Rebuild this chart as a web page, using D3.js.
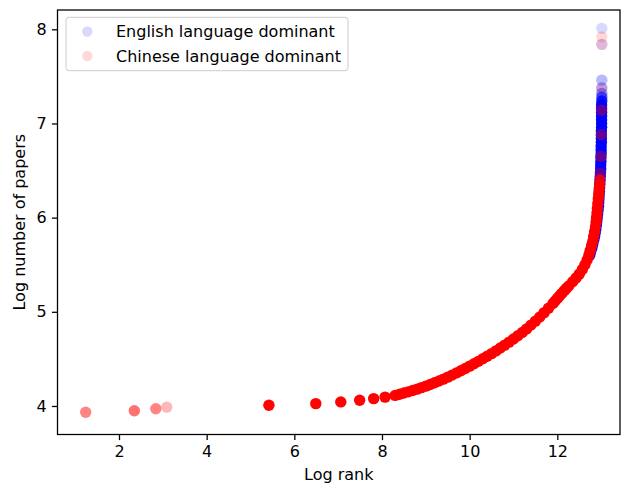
<!DOCTYPE html>
<html>
<head>
<meta charset="utf-8">
<script src="https://cdn.jsdelivr.net/npm/d3@7"></script>
<style>
  html, body { margin: 0; padding: 0; background: #fff; }
  svg text { font-family: "DejaVu Sans", sans-serif; }
</style>
</head>
<body>
<svg id="chart" width="621" height="483"></svg>
<script>
// ---------------- data ----------------
const seriesNames = ["English language dominant", "Chinese language dominant"];
const xTicks = [2, 4, 6, 8, 10, 12];
const yTicks = [4, 5, 6, 7, 8];

// English-dominant points: log rank, log papers, number of stacked markers
const enX = [12.74,12.76,12.79,12.81,12.83,12.85,12.865,12.88,12.89,12.90,12.91,12.92,12.93,12.94,12.945,12.95,12.955,12.96,12.965,12.97,12.975,12.98,12.985,12.99,12.99,12.995,12.995,13.0,13.0,13.0,13.005,13.005,13.005,13.005,13.01,13.01,13.01,13.01,13.01,13.01,13.01,13.015,13.015,13.015,13.015,13.015,13.015,13.015];
const enY = [5.60,5.64,5.68,5.72,5.76,5.80,5.84,5.88,5.92,5.96,6.00,6.04,6.08,6.12,6.16,6.20,6.24,6.28,6.32,6.36,6.40,6.44,6.48,6.52,6.56,6.60,6.64,6.68,6.72,6.76,6.80,6.84,6.88,6.92,6.96,7.00,7.04,7.08,7.12,7.16,7.20,7.24,7.28,7.32,7.38,7.46,7.84,8.01];
const enN = [20,20,20,20,20,20,20,20,20,20,20,20,20,20,20,20,20,20,20,20,20,20,20,20,20,20,20,20,20,20,20,20,20,20,20,20,20,20,20,20,16,10,6,3,2,2,1,1];

// Chinese-dominant points
const zhX = [1.24,2.35,2.84,3.09,5.42,6.49,7.06,7.49,7.81,8.07,
  8.3,8.4,8.5,8.6,8.7,8.8,8.9,9.0,9.1,9.2,9.3,9.4,9.5,9.6,9.7,9.8,9.9,10.0,10.1,10.2,10.3,10.4,10.5,10.6,10.7,10.8,10.9,11.0,11.1,11.2,11.3,11.4,11.5,11.6,11.7,11.8,11.9,11.95,12.0,
  12.05,12.1,12.16,12.21,12.26,12.35,12.43,12.50,12.57,12.63,12.68,12.72,12.75,12.78,12.81,12.83,12.85,12.87,12.885,12.895,12.905,12.915,12.925,12.935,12.945,12.955,12.965,12.972,
  12.98,12.995,13.005,13.01,13.015,13.015,13.015];
const zhY = [3.933,3.950,3.970,3.988,4.007,4.025,4.043,4.060,4.078,4.094,
  4.112,4.124,4.137,4.150,4.164,4.179,4.195,4.211,4.228,4.246,4.265,4.285,4.306,4.328,4.351,4.374,4.398,4.423,4.448,4.474,4.501,4.528,4.556,4.585,4.615,4.646,4.678,4.711,4.745,4.781,4.819,4.859,4.901,4.945,4.991,5.039,5.089,5.115,5.141,
  5.168,5.195,5.225,5.25,5.275,5.32,5.36,5.40,5.45,5.50,5.55,5.60,5.65,5.70,5.75,5.80,5.85,5.90,5.95,6.00,6.05,6.10,6.15,6.20,6.25,6.30,6.35,6.40,
  6.47,6.65,6.88,7.14,7.37,7.84,7.92];
const zhN = [4,5,4,2,30,30,30,30,30,30,
  30,30,30,30,30,30,30,30,30,30,30,30,30,30,30,30,30,30,30,30,30,30,30,30,30,30,30,30,30,30,30,30,30,30,30,30,30,30,30,
  30,30,30,30,30,30,30,30,30,30,30,30,30,30,30,30,30,30,30,30,30,30,30,30,30,30,20,10,
  3,3,3,3,1,1,1];

// ---------------- layout ----------------
const ALPHA = 0.15;
const plot = { left: 57.5, right: 620, top: 10, bottom: 434.5 };
const svg = d3.select("#chart");

const x = d3.scaleLinear().domain([0.597, 13.43]).range([plot.left, plot.right]);
const y = d3.scaleLinear().domain([3.697, 8.205]).range([plot.bottom, plot.top]);

const colors = ["#0000ff", "#ff0000"];
const series = [
  { name: seriesNames[0], color: colors[0], pts: enX.map((v, i) => ({ x: v, y: enY[i], n: enN[i] })) },
  { name: seriesNames[1], color: colors[1], pts: zhX.map((v, i) => ({ x: v, y: zhY[i], n: zhN[i] })) }
];

const R = 5.7;
const marks = svg.append("g");
series.forEach(s => {
  marks.append("g")
    .selectAll("circle")
    .data(s.pts)
    .join("circle")
    .attr("cx", d => x(d.x))
    .attr("cy", d => y(d.y))
    .attr("r", R)
    .attr("fill", s.color)
    .attr("fill-opacity", d => 1 - Math.pow(1 - ALPHA, d.n));
});

// axes
const fs = 16;
const lw = 1.28;
const xAxis = svg.append("g")
  .attr("transform", `translate(0,${plot.bottom})`)
  .call(d3.axisBottom(x).tickValues(xTicks).tickSize(5.6).tickPadding(5.2).tickFormat(d3.format("d")));
const yAxis = svg.append("g")
  .attr("transform", `translate(${plot.left},0)`)
  .call(d3.axisLeft(y).tickValues(yTicks).tickSize(5.6).tickPadding(5.2).tickFormat(d3.format("d")));
[xAxis, yAxis].forEach(a => {
  a.select(".domain").remove();
  a.selectAll(".tick line").attr("stroke", "#000").attr("stroke-width", lw);
  a.selectAll(".tick text").attr("font-size", fs).attr("fill", "#000").attr("font-family", "DejaVu Sans");
});

// frame
svg.append("rect")
  .attr("x", plot.left).attr("y", plot.top)
  .attr("width", plot.right - plot.left).attr("height", plot.bottom - plot.top)
  .attr("fill", "none").attr("stroke", "#000").attr("stroke-width", lw);

// axis labels
svg.append("text")
  .attr("x", (plot.left + plot.right) / 2).attr("y", 480)
  .attr("text-anchor", "middle").attr("font-size", fs).attr("fill", "#000")
  .text("Log rank");
svg.append("text")
  .attr("transform", `translate(25,${(plot.top + plot.bottom) / 2}) rotate(-90)`)
  .attr("text-anchor", "middle").attr("font-size", fs).attr("fill", "#000")
  .text("Log number of papers");

// legend
const lg = svg.append("g");
lg.append("rect")
  .attr("x", 66).attr("y", 17.3).attr("width", 282).attr("height", 53.4)
  .attr("rx", 3).attr("fill", "#fff").attr("fill-opacity", 0.8)
  .attr("stroke", "#cccccc").attr("stroke-width", 1);
series.forEach((s, i) => {
  const cy = 31.5 + i * 24.5;
  lg.append("circle").attr("cx", 87.3).attr("cy", cy).attr("r", 5.2)
    .attr("fill", s.color).attr("fill-opacity", ALPHA);
  lg.append("text").attr("x", 116).attr("y", cy).attr("dy", "0.35em")
    .attr("font-size", fs).attr("fill", "#000").text(s.name);
});
</script>
</body>
</html>
